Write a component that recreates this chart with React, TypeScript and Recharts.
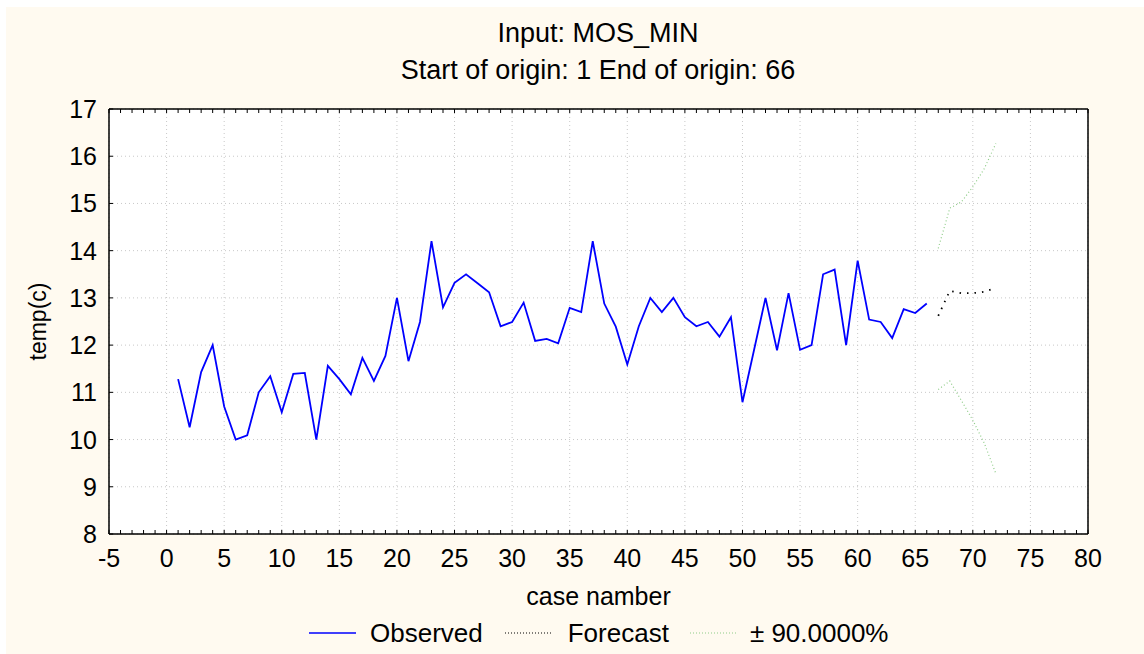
import React from 'react';
import { ComposedChart, Line, XAxis, YAxis, CartesianGrid, Label } from 'recharts';

// observed series, case 1..66
const observed = [
  11.28, 10.26, 11.43, 12.0, 10.7, 10.0, 10.09, 11.0, 11.34, 10.58,
  11.39, 11.41, 10.0, 11.56, 11.28, 10.96, 11.73, 11.24, 11.77, 13.0,
  11.66, 12.49, 14.2, 12.8, 13.32, 13.5, 13.31, 13.12, 12.4, 12.49,
  12.9, 12.09, 12.13, 12.04, 12.79, 12.7, 14.2, 12.88, 12.39, 11.59,
  12.4, 13.0, 12.7, 13.0, 12.59, 12.4, 12.49, 12.18, 12.59, 10.79,
  11.89, 13.0, 11.89, 13.1, 11.9, 12.0, 13.5, 13.6, 12.0, 13.79,
  12.54, 12.49, 12.15, 12.76, 12.68, 12.88,
];

// forecast, case 67..72
const forecastStart = 67;
const forecast = [12.62, 13.15, 13.1, 13.1, 13.13, 13.21];
const upper90 = [14.05, 14.9, 15.03, 15.35, 15.74, 16.27];
const lower90 = [11.06, 11.24, 10.83, 10.41, 9.92, 9.28];

const xTicks = [-5, 0, 5, 10, 15, 20, 25, 30, 35, 40, 45, 50, 55, 60, 65, 70, 75, 80];
const yTicks = [8, 9, 10, 11, 12, 13, 14, 15, 16, 17];
const minorXTicks = Array.from({ length: 86 }, (_, i) => i - 5);

const data = [
  ...observed.map((v, i) => ({ caseNo: i + 1, observed: v })),
  ...forecast.map((v, i) => ({
    caseNo: forecastStart + i,
    forecast: v,
    upper: upper90[i],
    lower: lower90[i],
  })),
];

const FONT = '"Liberation Sans", Arial, sans-serif';
const TICK = 4;
const BAND = '#8fcc88';

const LeftTick = (p: any) => (
  <g>
    <line x1={p.x} y1={p.y} x2={p.x + TICK} y2={p.y} stroke="#000" />
    <text x={p.x - 12} y={p.y} dy="0.36em" textAnchor="end" fontSize={25} fontFamily={FONT} fill="#000">
      {p.payload.value}
    </text>
  </g>
);

const RightTick = (p: any) => (
  <g>
    <line x1={p.x} y1={p.y} x2={p.x - TICK} y2={p.y} stroke="#000" />
    <text x={p.x + 12} y={p.y} dy="0.36em" textAnchor="start" fontSize={25} fontFamily={FONT} fill="#000">
      {p.payload.value}
    </text>
  </g>
);

// every unit gets a small inside tick, every 5 also a label
const BottomTick = (p: any) => (
  <g>
    <line x1={p.x} y1={p.y} x2={p.x} y2={p.y - TICK} stroke="#000" />
    {xTicks.includes(p.payload.value) && (
      <text x={p.x} y={p.y + 15} dy="0.72em" textAnchor="middle" fontSize={25} fontFamily={FONT} fill="#000">
        {p.payload.value}
      </text>
    )}
  </g>
);

const TopTick = (p: any) => (
  <line x1={p.x} y1={p.y} x2={p.x} y2={p.y + TICK} stroke="#000" />
);

function LegendSample({ color, dash, width }: { color: string; dash?: string; width: number }) {
  return (
    <svg width={47} height={10} style={{ display: 'block' }}>
      <line x1={0} y1={5} x2={47} y2={5} stroke={color} strokeWidth={width} strokeDasharray={dash} />
    </svg>
  );
}

export default function App() {
  const titleStyle: React.CSSProperties = { fontFamily: FONT, fontSize: 27, color: '#000', whiteSpace: 'nowrap' };
  const legendText: React.CSSProperties = { fontFamily: FONT, fontSize: 26, color: '#000', whiteSpace: 'nowrap' };
  return (
    <div style={{ position: 'absolute', left: 6, top: 7, width: 1138, height: 647, background: '#fffaf0' }}>
      <div style={{ ...titleStyle, position: 'absolute', left: 192, width: 800, top: 11, lineHeight: '30px', textAlign: 'center' }}>
        Input: MOS_MIN
      </div>
      <div style={{ ...titleStyle, position: 'absolute', left: 192, width: 800, top: 48, lineHeight: '30px', textAlign: 'center' }}>
        Start of origin: 1 End of origin: 66
      </div>
      <ComposedChart
        width={1138}
        height={647}
        data={data}
        margin={{ top: 101, left: 102, right: 55, bottom: 119 }}
        style={{ position: 'absolute', left: 0, top: 0 }}
      >
        <CartesianGrid
          xAxisId="x"
          yAxisId="l"
          verticalValues={xTicks}
          horizontalValues={yTicks}
          stroke="#c8c8c8"
          strokeDasharray="1 3"
          fill="#ffffff"
          fillOpacity={1}
        />
        <XAxis
          xAxisId="x"
          dataKey="caseNo"
          type="number"
          domain={[-5, 80]}
          ticks={minorXTicks}
          interval={0}
          height={1}
          tickSize={0}
          tickMargin={0}
          tickLine={false}
          axisLine={{ stroke: '#000', strokeWidth: 1.5 }}
          tick={BottomTick}
        >
          <Label
            value="case namber"
            position="bottom"
            offset={52}
            style={{ fontFamily: FONT, fontSize: 25, fill: '#000' }}
          />
        </XAxis>
        <XAxis
          xAxisId="top"
          orientation="top"
          dataKey="caseNo"
          type="number"
          domain={[-5, 80]}
          ticks={minorXTicks}
          interval={0}
          height={1}
          tickSize={0}
          tickMargin={0}
          tickLine={false}
          axisLine={{ stroke: '#000', strokeWidth: 1.5 }}
          tick={TopTick}
        />
        <YAxis
          yAxisId="l"
          type="number"
          domain={[8, 17]}
          ticks={yTicks}
          interval={0}
          width={1}
          tickSize={0}
          tickMargin={0}
          tickLine={false}
          axisLine={{ stroke: '#000', strokeWidth: 1.5 }}
          tick={LeftTick}
        >
          <Label
            value="temp(c)"
            position="left"
            angle={-90}
            offset={70}
            style={{ fontFamily: FONT, fontSize: 23, fill: '#000', textAnchor: 'middle' }}
          />
        </YAxis>
        <YAxis
          yAxisId="r"
          orientation="right"
          type="number"
          domain={[8, 17]}
          ticks={yTicks}
          interval={0}
          width={1}
          tickSize={0}
          tickMargin={0}
          tickLine={false}
          axisLine={{ stroke: '#000', strokeWidth: 1.5 }}
          tick={RightTick}
        />
        <Line xAxisId="x" yAxisId="l" dataKey="observed" stroke="#0000ff" strokeWidth={1.8} dot={false} isAnimationActive={false} />
        <Line xAxisId="x" yAxisId="l" dataKey="forecast" stroke="#000000" strokeWidth={1.8} strokeDasharray="1.5 6" dot={false} isAnimationActive={false} />
        <Line xAxisId="x" yAxisId="l" dataKey="upper" stroke={BAND} strokeWidth={1.2} strokeDasharray="1 2.5" dot={false} isAnimationActive={false} />
        <Line xAxisId="x" yAxisId="l" dataKey="lower" stroke={BAND} strokeWidth={1.2} strokeDasharray="1 2.5" dot={false} isAnimationActive={false} />
      </ComposedChart>
      <div style={{ position: 'absolute', left: 303, top: 611, height: 30, display: 'flex', alignItems: 'center' }}>
        <LegendSample color="#0000ff" width={1.5} />
        <span style={{ ...legendText, marginLeft: 14 }}>Observed</span>
        <div style={{ marginLeft: 22 }}>
          <LegendSample color="#000000" width={1.2} dash="1 2" />
        </div>
        <span style={{ ...legendText, marginLeft: 16 }}>Forecast</span>
        <div style={{ marginLeft: 21 }}>
          <LegendSample color={BAND} width={1.2} dash="1 2" />
        </div>
        <span style={{ ...legendText, marginLeft: 13 }}>± 90.0000%</span>
      </div>
    </div>
  );
}
